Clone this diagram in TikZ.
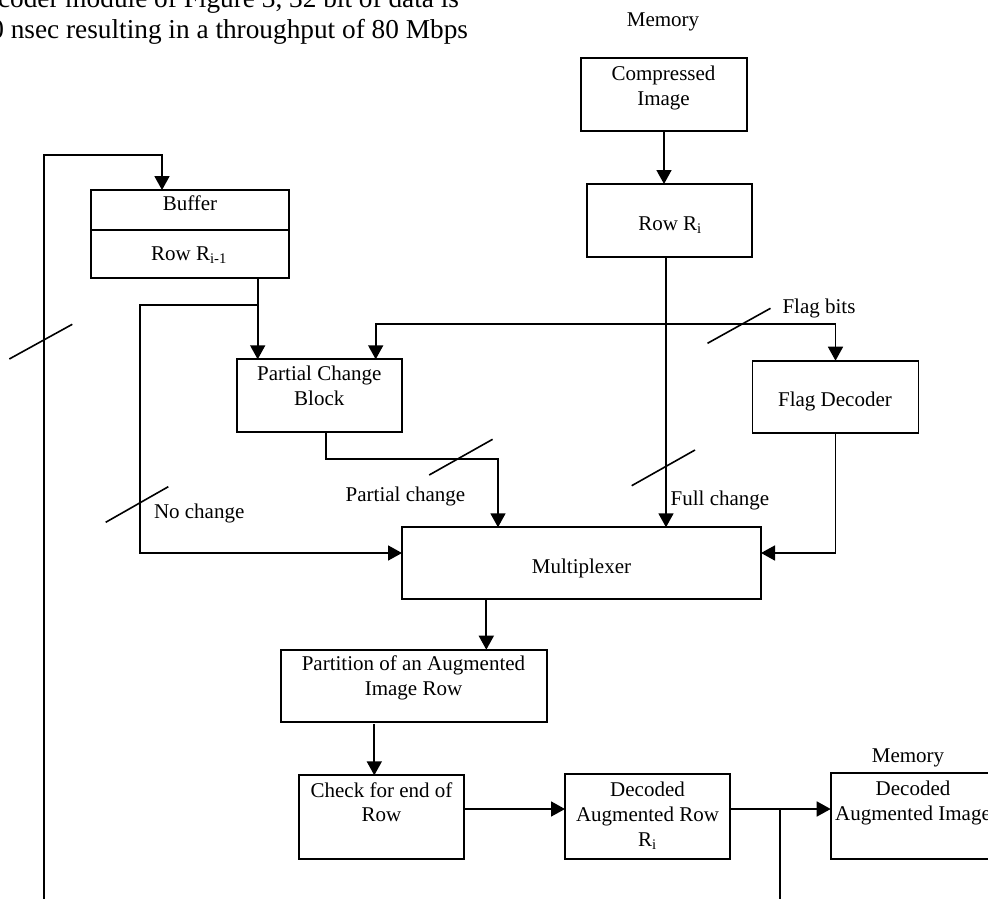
\documentclass[tikz,border=0pt]{standalone}
\usepackage{fontspec}
\setmainfont{Liberation Serif}
\usetikzlibrary{arrows.meta}
\begin{document}
\begin{tikzpicture}[x=1pt,y=-1pt,
  box/.style={draw,line width=1.8pt,inner sep=0pt,outer sep=0pt},
  txt/.style={font=\fontsize{21}{24.7}\selectfont,inner sep=0pt,outer sep=0pt,anchor=base,align=center},
  toptxt/.style={font=\fontsize{27.3}{30}\selectfont,inner sep=0pt,outer sep=0pt,anchor=base east},
  conn/.style={line width=1.7pt},
  arr/.style={conn,-{Triangle[length=14pt,width=15pt]}},
  darr/.style={conn,{Triangle[length=14pt,width=15pt]}-{Triangle[length=14pt,width=15pt]}},
  slash/.style={line width=1.6pt}]
\useasboundingbox (0,0) rectangle (988,899);
\clip (0,0) rectangle (988,899);

% running text at the top
\node[toptxt] (top1) at (459,7.5) {decoder module of Figure 3, 32 bit of data is};
\node[toptxt] (top2) at (468,38.3) {400 nsec resulting in a throughput of 80 Mbps};

% boxes
\node[box,minimum width=166pt,minimum height=73pt] (comp) at (664,94.5) {};
\node[box,minimum width=165pt,minimum height=73pt] (rowi) at (669.5,220.5) {};
\node[box,minimum width=198pt,minimum height=87.7pt] (buf) at (189.7,233.9) {};
\coordinate (divy) at (0,230);
\draw[conn] (buf.west |- divy) -- (buf.east |- divy);
\node[box,minimum width=165.6pt,minimum height=72.4pt] (pcb) at (319.5,395.5) {};
\node[box,minimum width=166pt,minimum height=72.6pt] (flag) at (835.5,397) {};
\node[box,minimum width=359pt,minimum height=72pt] (mux) at (581.5,563.3) {};
\node[box,minimum width=266pt,minimum height=72pt] (part) at (413.7,685.7) {};
\node[box,minimum width=165.3pt,minimum height=84pt] (chk) at (381.3,817.3) {};
\node[box,minimum width=165pt,minimum height=85pt] (drow) at (647.5,816.5) {};
\node[box,minimum width=166pt,minimum height=86pt] (dimg) at (913.7,816) {};

% texts
\node[txt] (mem1) at (663,26.7) {Memory};
\node[txt] (compt) at (663.5,105) {Compressed\\Image};
\node[txt] (rowit) at (670,230.7) {Row R\textsubscript{i}};
\node[txt] (buft) at (190,210.7) {Buffer};
\node[txt] (bufrt) at (189,260.7) {Row R\textsubscript{i-1}};
\node[txt] (pcbt) at (319.3,405) {Partial Change\\Block};
\node[txt] (flagt) at (835,406.7) {Flag Decoder};
\node[txt] (muxt) at (581.5,573) {Multiplexer};
\node[txt] (partt) at (413.5,695) {Partition of an Augmented\\Image Row};
\node[txt] (chkt) at (381.5,821.7) {Check for end of\\Row};
\node[txt] (drowt) at (647.5,846) {Decoded\\Augmented Row\\R\textsubscript{i}};
\node[txt] (dimgt) at (913,820) {Decoded\\Augmented Image};
\node[txt] (mem2) at (908,762) {Memory};
\node[txt,anchor=base west] (lfb) at (782.5,313) {Flag bits};
\node[txt,anchor=base west] (lfc) at (670.7,505) {Full change};
\node[txt,anchor=base west] (lpc) at (345.7,501.7) {Partial change};
\node[txt,anchor=base west] (lnc) at (154,518) {No change};

% connectors
\coordinate (loopbot) at (44,905);
\coordinate (looptop) at (44,155);
\coordinate (bin) at (162,155);
\draw[arr] (loopbot) -- (looptop) -- (bin) -- (bin |- buf.north);

\draw[arr] (comp.south) -- (comp.south |- rowi.north);

\coordinate (jn) at (257.7,305);
\draw[conn] (buf.south -| jn) -- (jn);
\draw[arr] (jn) -- (pcb.north -| jn);
\coordinate (ncx) at (140,305);
\coordinate (muxin) at (0,553);
\draw[arr] (jn) -- (ncx) -- (ncx |- muxin) -- (mux.west |- muxin);

\coordinate (fbl) at (375.7,324);
\draw[darr] (pcb.north -| fbl) -- (fbl) -- (flag.north |- fbl) -- (flag.north);

\coordinate (fcx) at (666,0);
\draw[arr] (rowi.south -| fcx) -- (mux.north -| fcx);

\draw[arr] (flag.south) -- (flag.south |- muxin) -- (mux.east |- muxin);

\coordinate (pcx) at (326,459);
\coordinate (pcy) at (498,459);
\draw[arr] (pcb.south -| pcx) -- (pcx) -- (pcy) -- (mux.north -| pcy);

\coordinate (mpx) at (486.3,0);
\draw[arr] (mux.south -| mpx) -- (part.north -| mpx);

\coordinate (pc2) at (374.3,724);
\draw[arr] (pc2) -- (chk.north -| pc2);

\coordinate (rowy) at (0,809);
\draw[arr] (chk.east |- rowy) -- (drow.west |- rowy);
\draw[arr] (drow.east |- rowy) -- (dimg.west |- rowy);
\coordinate (jx) at (780,809);
\coordinate (jxb) at (780,905);
\draw[conn] (jx) -- (jxb);

% bus slashes
\draw[slash] (9.3,359) -- (72.3,324.3);
\draw[slash] (105.7,522.3) -- (168.3,486.7);
\draw[slash] (707.5,343.3) -- (770.5,308.3);
\draw[slash] (429.2,475) -- (492.6,439.3);
\draw[slash] (631.7,485.7) -- (695,450);
\end{tikzpicture}
\end{document}
